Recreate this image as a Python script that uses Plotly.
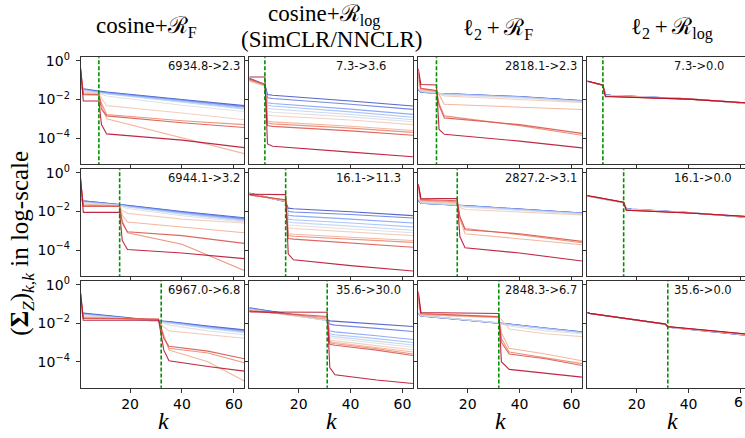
import plotly.graph_objects as go
from plotly.colors import sample_colorscale

# ---------------- data ----------------
COL_TITLES = ["cosine+ℛ<sub>F</sub>", "cosine+ℛ<sub>log</sub>",
              "ℓ<sub>2</sub>\u2009+\u2009ℛ<sub>F</sub>", "ℓ<sub>2</sub>\u2009+\u2009ℛ<sub>log</sub>"]
COL2_SUBTITLE = "(SimCLR/NNCLR)"
Y_LABEL = "(<b>Σ</b><sub><i>Z</i></sub>)<sub><i>k,k</i></sub> in log-scale"
X_LABEL = "<i>k</i>"
X_TICKS = [20, 40, 60]
X_TICK_TEXT = ["20", "40", "60"]
X_TICK_TEXT_CUT = ["20", "40", ""]   # last column: the "60" label is cut by the image edge
CUT_LABEL_VISIBLE = "6"
Y_TICKS = [1, 1e-2, 1e-4]
Y_TICK_TEXT = ["10<sup>0</sup>", "10<sup>−2</sup>", "10<sup>−4</sup>"]

DIMS = [[8, 7, 8, 7], [16, 15, 16, 15], [32, 31, 32, 32]]
LABELS = [["6934.8->2.3", "7.3->3.6", "2818.1->2.3", "7.3->0.0"],
          ["6944.1->3.2", "16.1->11.3", "2827.2->3.1", "16.1->0.0"],
          ["6967.0->6.8", "35.6->30.0", "2848.3->6.7", "35.6->0.0"]]

# k positions of the read points, and log10 of the diagonal values, one row per curve
KNOTS_R1C1 = [1, 2, 8, 9, 11, 40, 64]
LOG_R1C1 = [
    [-1.36, -1.45, -1.57, -1.59, -1.62, -2.00, -2.32],
    [-1.37, -1.47, -1.59, -1.61, -1.64, -2.03, -2.36],
    [-1.38, -1.49, -1.61, -1.63, -1.66, -2.06, -2.40],
    [-1.39, -1.51, -1.63, -1.65, -1.69, -2.10, -2.45],
    [-1.40, -1.53, -1.66, -1.68, -1.72, -2.14, -2.50],
    [-1.10, -1.57, -1.70, -1.74, -1.82, -2.30, -2.62],
    [-0.80, -1.62, -1.72, -1.90, -2.32, -2.70, -3.05],
    [-0.60, -1.70, -1.74, -2.30, -3.00, -4.00, -4.80],
    [-0.50, -1.72, -1.75, -2.20, -2.78, -3.10, -3.30],
    [-0.45, -1.75, -1.76, -2.50, -2.85, -3.20, -3.45],
    [-0.38, -2.08, -2.08, -3.30, -3.78, -4.10, -4.49],
]
KNOTS_R1C2 = [1, 2, 7, 8, 10, 40, 64]
LOG_R1C2 = [
    [-0.90, -0.95, -1.22, -1.74, -1.78, -2.08, -2.34],
    [-0.93, -0.98, -1.24, -1.91, -1.95, -2.25, -2.51],
    [-0.96, -1.01, -1.26, -2.17, -2.21, -2.50, -2.77],
    [-0.99, -1.04, -1.27, -2.30, -2.34, -2.64, -2.92],
    [-1.02, -1.07, -1.28, -2.45, -2.49, -2.78, -3.05],
    [-1.05, -1.10, -1.30, -2.62, -2.66, -2.90, -3.15],
    [-1.05, -1.10, -1.30, -2.80, -2.84, -3.06, -3.30],
    [-1.00, -1.05, -1.28, -3.12, -3.16, -3.38, -3.60],
    [-0.97, -1.02, -1.25, -3.22, -3.26, -3.48, -3.70],
    [-0.93, -0.98, -1.22, -3.35, -3.39, -3.62, -3.85],
    [-0.84, -0.84, -0.84, -4.30, -4.42, -4.72, -4.96],
]
KNOTS_R1C3 = [1, 2, 8, 9, 11, 40, 64]
LOG_R1C3 = [
    [-1.50, -1.62, -1.68, -1.69, -1.70, -1.85, -2.06],
    [-1.50, -1.62, -1.68, -1.69, -1.70, -1.86, -2.07],
    [-1.48, -1.61, -1.68, -1.69, -1.71, -1.87, -2.08],
    [-1.46, -1.60, -1.67, -1.69, -1.71, -1.88, -2.09],
    [-1.44, -1.58, -1.66, -1.69, -1.72, -1.89, -2.10],
    [-1.40, -1.56, -1.64, -1.70, -1.76, -1.92, -2.12],
    [-1.20, -1.52, -1.60, -1.72, -1.82, -1.98, -2.15],
    [-1.00, -1.50, -1.58, -1.75, -2.25, -2.40, -2.52],
    [-0.80, -1.45, -1.56, -2.20, -2.85, -3.35, -3.85],
    [-0.60, -1.42, -1.54, -2.30, -2.95, -3.30, -3.75],
    [-0.41, -1.23, -1.25, -3.55, -3.80, -4.15, -4.50],
]
KNOTS_R1C4 = [1, 2, 7, 8, 10, 40, 64]
LOG_R1C4 = [
    [-1.06, -1.09, -1.26, -1.74, -1.78, -1.97, -2.22],
    [-1.06, -1.09, -1.26, -1.75, -1.79, -1.97, -2.22],
    [-1.06, -1.09, -1.26, -1.76, -1.79, -1.97, -2.21],
    [-1.06, -1.09, -1.26, -1.77, -1.80, -1.97, -2.21],
    [-1.06, -1.09, -1.26, -1.78, -1.80, -1.97, -2.21],
    [-1.06, -1.09, -1.26, -1.79, -1.81, -1.97, -2.20],
    [-1.06, -1.09, -1.26, -1.80, -1.82, -1.97, -2.20],
    [-1.06, -1.09, -1.26, -1.82, -1.83, -1.97, -2.20],
    [-1.06, -1.09, -1.26, -1.83, -1.84, -1.98, -2.20],
    [-1.06, -1.09, -1.26, -1.85, -1.85, -1.98, -2.19],
    [-1.05, -1.08, -1.25, -1.86, -1.86, -1.98, -2.19],
]
KNOTS_R2C1 = [1, 2, 16, 17, 19, 40, 64]
LOG_R2C1 = [
    [-1.38, -1.45, -1.64, -1.66, -1.68, -2.00, -2.33],
    [-1.39, -1.47, -1.65, -1.67, -1.70, -2.03, -2.37],
    [-1.40, -1.49, -1.66, -1.68, -1.72, -2.06, -2.41],
    [-1.41, -1.51, -1.67, -1.70, -1.74, -2.10, -2.45],
    [-1.42, -1.53, -1.68, -1.72, -1.77, -2.14, -2.50],
    [-1.10, -1.56, -1.70, -1.76, -1.85, -2.22, -2.55],
    [-0.80, -1.60, -1.71, -1.95, -2.10, -2.40, -2.60],
    [-0.60, -1.64, -1.72, -2.20, -2.55, -2.80, -3.10],
    [-0.50, -1.68, -1.73, -2.50, -3.10, -3.70, -5.05],
    [-0.40, -1.74, -1.74, -2.60, -3.05, -3.25, -3.65],
    [-0.29, -2.05, -2.05, -3.50, -3.97, -4.15, -4.44],
]
KNOTS_R2C2 = [1, 2, 15, 16, 18, 40, 64]
LOG_R2C2 = [
    [-1.05, -1.08, -1.50, -1.83, -1.86, -2.02, -2.22],
    [-1.06, -1.09, -1.50, -2.00, -2.03, -2.16, -2.34],
    [-1.07, -1.10, -1.49, -2.20, -2.23, -2.40, -2.60],
    [-1.08, -1.11, -1.48, -2.40, -2.43, -2.60, -2.80],
    [-1.09, -1.12, -1.47, -2.55, -2.58, -2.76, -2.97],
    [-1.10, -1.13, -1.46, -2.70, -2.73, -2.90, -3.10],
    [-1.11, -1.14, -1.45, -2.85, -2.88, -3.05, -3.25],
    [-1.12, -1.15, -1.44, -3.15, -3.18, -3.33, -3.50],
    [-1.13, -1.16, -1.42, -3.25, -3.28, -3.43, -3.60],
    [-1.14, -1.17, -1.40, -3.40, -3.43, -3.62, -3.85],
    [-1.11, -1.11, -1.13, -4.20, -4.50, -4.80, -5.08],
]
KNOTS_R2C3 = [1, 2, 16, 17, 19, 40, 64]
LOG_R2C3 = [
    [-1.45, -1.58, -1.68, -1.69, -1.70, -1.88, -2.08],
    [-1.45, -1.58, -1.68, -1.69, -1.70, -1.88, -2.08],
    [-1.43, -1.57, -1.68, -1.69, -1.71, -1.89, -2.09],
    [-1.40, -1.56, -1.67, -1.69, -1.72, -1.90, -2.10],
    [-1.35, -1.55, -1.66, -1.70, -1.74, -1.92, -2.12],
    [-1.20, -1.52, -1.64, -1.72, -1.78, -1.95, -2.14],
    [-1.00, -1.48, -1.60, -1.80, -1.90, -2.02, -2.18],
    [-0.80, -1.45, -1.55, -2.40, -3.15, -3.40, -3.72],
    [-0.70, -1.42, -1.50, -2.30, -2.88, -3.20, -3.62],
    [-0.62, -1.38, -1.45, -2.25, -2.95, -3.15, -3.55],
    [-0.58, -1.32, -1.34, -3.30, -3.88, -4.15, -4.56],
]
KNOTS_R2C4 = [1, 2, 15, 16, 18, 40, 64]
LOG_R2C4 = [
    [-1.20, -1.23, -1.55, -1.84, -1.88, -2.06, -2.32],
    [-1.20, -1.23, -1.55, -1.85, -1.89, -2.06, -2.32],
    [-1.20, -1.23, -1.55, -1.86, -1.89, -2.06, -2.31],
    [-1.20, -1.23, -1.55, -1.87, -1.90, -2.06, -2.31],
    [-1.20, -1.23, -1.55, -1.88, -1.90, -2.07, -2.30],
    [-1.20, -1.23, -1.55, -1.89, -1.91, -2.07, -2.30],
    [-1.20, -1.23, -1.55, -1.90, -1.92, -2.07, -2.29],
    [-1.19, -1.22, -1.54, -1.91, -1.93, -2.07, -2.29],
    [-1.19, -1.22, -1.54, -1.92, -1.94, -2.08, -2.28],
    [-1.18, -1.21, -1.53, -1.93, -1.95, -2.08, -2.28],
    [-1.17, -1.20, -1.52, -1.94, -1.95, -2.08, -2.27],
]
KNOTS_R3C1 = [1, 2, 31, 33, 35, 50, 64]
LOG_R3C1 = [
    [-1.40, -1.48, -1.88, -1.90, -1.92, -2.15, -2.35],
    [-1.41, -1.50, -1.89, -1.91, -1.93, -2.17, -2.38],
    [-1.42, -1.52, -1.90, -1.92, -1.95, -2.20, -2.42],
    [-1.43, -1.54, -1.91, -1.93, -1.97, -2.23, -2.46],
    [-1.44, -1.56, -1.92, -1.95, -2.00, -2.27, -2.50],
    [-1.20, -1.60, -1.90, -2.00, -2.10, -2.40, -2.60],
    [-0.90, -1.65, -1.85, -2.20, -2.40, -2.60, -2.78],
    [-0.70, -1.70, -1.82, -2.60, -3.40, -4.00, -5.00],
    [-0.60, -1.72, -1.80, -2.70, -3.30, -3.55, -4.05],
    [-0.50, -1.75, -1.78, -2.80, -3.20, -3.45, -3.85],
    [-0.43, -1.85, -1.85, -3.40, -3.95, -4.25, -4.49],
]
KNOTS_R3C2 = [1, 2, 31, 32, 34, 50, 64]
LOG_R3C2 = [
    [-1.20, -1.22, -1.82, -1.88, -1.90, -2.05, -2.17],
    [-1.22, -1.24, -1.84, -2.05, -2.10, -2.27, -2.43],
    [-1.24, -1.26, -1.85, -2.40, -2.45, -2.65, -2.85],
    [-1.26, -1.28, -1.86, -2.55, -2.60, -2.80, -3.00],
    [-1.28, -1.30, -1.86, -2.65, -2.70, -2.93, -3.13],
    [-1.30, -1.32, -1.85, -2.75, -2.80, -3.03, -3.25],
    [-1.30, -1.33, -1.82, -2.88, -2.92, -3.15, -3.38],
    [-1.32, -1.34, -1.78, -2.95, -3.00, -3.25, -3.50],
    [-1.34, -1.36, -1.72, -3.02, -3.07, -3.33, -3.60],
    [-1.36, -1.38, -1.65, -3.10, -3.15, -3.40, -3.68],
    [-1.40, -1.42, -1.43, -4.30, -4.68, -4.95, -5.13],
]
KNOTS_R3C3 = [1, 2, 32, 33, 36, 50, 64]
LOG_R3C3 = [
    [-1.50, -1.62, -2.00, -2.02, -2.05, -2.25, -2.45],
    [-1.50, -1.62, -2.00, -2.02, -2.05, -2.26, -2.46],
    [-1.49, -1.61, -2.00, -2.02, -2.06, -2.27, -2.47],
    [-1.48, -1.61, -1.99, -2.03, -2.07, -2.28, -2.48],
    [-1.46, -1.60, -1.99, -2.03, -2.08, -2.30, -2.50],
    [-1.40, -1.60, -1.98, -2.05, -2.15, -2.40, -2.55],
    [-1.10, -1.58, -1.72, -1.80, -2.30, -2.55, -2.70],
    [-0.90, -1.55, -1.70, -2.50, -3.30, -3.60, -3.95],
    [-0.70, -1.52, -1.68, -2.80, -3.50, -3.80, -4.10],
    [-0.50, -1.50, -1.66, -3.00, -3.60, -3.85, -4.20],
    [-0.35, -1.45, -1.50, -4.00, -4.40, -4.60, -4.80],
]
KNOTS_R3C4 = [1, 2, 31, 32, 34, 50, 64]
LOG_R3C4 = [
    [-1.45, -1.50, -2.05, -2.20, -2.24, -2.44, -2.66],
    [-1.45, -1.50, -2.05, -2.20, -2.24, -2.43, -2.65],
    [-1.45, -1.50, -2.05, -2.20, -2.23, -2.43, -2.65],
    [-1.45, -1.50, -2.05, -2.20, -2.23, -2.42, -2.64],
    [-1.45, -1.50, -2.05, -2.20, -2.23, -2.42, -2.64],
    [-1.45, -1.50, -2.05, -2.19, -2.22, -2.41, -2.63],
    [-1.45, -1.50, -2.05, -2.19, -2.22, -2.41, -2.62],
    [-1.45, -1.50, -2.05, -2.19, -2.22, -2.40, -2.61],
    [-1.45, -1.50, -2.05, -2.18, -2.21, -2.40, -2.60],
    [-1.45, -1.50, -2.05, -2.18, -2.21, -2.39, -2.59],
    [-1.44, -1.49, -2.04, -2.18, -2.20, -2.39, -2.58],
]

PANELS = [
    [(KNOTS_R1C1, LOG_R1C1), (KNOTS_R1C2, LOG_R1C2), (KNOTS_R1C3, LOG_R1C3), (KNOTS_R1C4, LOG_R1C4)],
    [(KNOTS_R2C1, LOG_R2C1), (KNOTS_R2C2, LOG_R2C2), (KNOTS_R2C3, LOG_R2C3), (KNOTS_R2C4, LOG_R2C4)],
    [(KNOTS_R3C1, LOG_R3C1), (KNOTS_R3C2, LOG_R3C2), (KNOTS_R3C3, LOG_R3C3), (KNOTS_R3C4, LOG_R3C4)],
]

# ---------------- styling / layout ----------------
W, H = 745, 438
COOLWARM = [[0.0, "rgb(59,76,192)"], [0.125, "rgb(98,130,234)"], [0.25, "rgb(141,176,254)"],
            [0.375, "rgb(184,208,249)"], [0.5, "rgb(221,221,221)"], [0.625, "rgb(245,196,173)"],
            [0.75, "rgb(244,154,123)"], [0.875, "rgb(222,96,77)"], [1.0, "rgb(180,4,38)"]]
N_LINES = 11
COLORS = sample_colorscale(COOLWARM, [i / (N_LINES - 1) for i in range(N_LINES)])

COL_PX = [(80.7, 244.3), (249.3, 413.0), (418.3, 582.0), (587.3, 745.0)]
ROW_PX = [(52.0, 160.5), (165.5, 274.0), (279.0, 387.0)]
PX_PER_K = (244.3 - 80.7) / 63.0
Y_RANGE = [-5.35, 0.18]
SERIF = "Liberation Serif, DejaVu Serif, serif"
SANS = "DejaVu Sans, sans-serif"

fig = go.Figure()
layout = {}
annotations = []

for r in range(3):
    for c in range(4):
        idx = r * 4 + c + 1
        xa = "x" if idx == 1 else f"x{idx}"
        ya = "y" if idx == 1 else f"y{idx}"
        knots, logs = PANELS[r][c]
        for i, vals in enumerate(logs):
            fig.add_trace(go.Scatter(
                x=knots, y=[10 ** v for v in vals], mode="lines",
                line=dict(color=COLORS[i], width=1.1), opacity=0.85,
                xaxis=xa, yaxis=ya, showlegend=False, hoverinfo="skip"))
        d = DIMS[r][c]
        fig.add_trace(go.Scatter(
            x=[d, d], y=[1e-7, 10], mode="lines",
            line=dict(color="#009000", width=1.6, dash="4px,2px"),
            xaxis=xa, yaxis=ya, showlegend=False, hoverinfo="skip"))

        x0, x1 = COL_PX[c]
        ytop, ybot = ROW_PX[r]
        xmax = 1 + (x1 - x0) / PX_PER_K
        layout["xaxis" if idx == 1 else f"xaxis{idx}"] = dict(
            domain=[x0 / W, x1 / W], range=[1, xmax], anchor=ya,
            tickmode="array", tickvals=X_TICKS,
            ticktext=X_TICK_TEXT_CUT if c == 3 else X_TICK_TEXT,
            showticklabels=(r == 2), ticklabeloverflow="allow",
            ticks="outside", ticklen=4, tickwidth=1, tickcolor="#333",
            showline=True, linecolor="#333", linewidth=1, mirror=True,
            showgrid=False, zeroline=False,
            tickfont=dict(family=SANS, size=14, color="#000"))
        layout["yaxis" if idx == 1 else f"yaxis{idx}"] = dict(
            domain=[1 - ybot / H, 1 - ytop / H], type="log", range=Y_RANGE, anchor=xa,
            tickmode="array", tickvals=Y_TICKS, ticktext=Y_TICK_TEXT,
            showticklabels=(c == 0), ticklabelstandoff=3,
            ticks="outside", ticklen=4, tickwidth=1, tickcolor="#333",
            showline=True, linecolor="#333", linewidth=1, mirror=(c != 3),
            showgrid=False, zeroline=False,
            tickfont=dict(family=SANS, size=14, color="#000"))

        annotations.append(dict(
            text=LABELS[r][c], xref="paper", yref="paper",
            x=(x0 + 0.52 * (244.3 - 80.7)) / W, y=1 - (ytop + 9) / H,
            xanchor="left", yanchor="middle", showarrow=False,
            font=dict(family=SANS, size=11.5, color="#111")))

# visible part of the last column's "60" tick label, kept inside the page edge
annotations.append(dict(text=CUT_LABEL_VISIBLE, xref="paper", yref="paper",
                        x=1.0, y=1 - 401.5 / H, xanchor="right", yanchor="middle",
                        showarrow=False, font=dict(family=SANS, size=14, color="#000")))

TITLE_POS = [(146, 21.5), (324, 9.5), (498, 23), (672, 23)]
for c in range(4):
    tx, ty = TITLE_POS[c]
    annotations.append(dict(text=COL_TITLES[c], xref="paper", yref="paper",
                            x=tx / W, y=1 - ty / H, xanchor="center", yanchor="middle",
                            showarrow=False, font=dict(family=SERIF, size=23, color="#000")))
annotations.append(dict(text=COL2_SUBTITLE, xref="paper", yref="paper",
                        x=331 / W, y=1 - 34 / H, xanchor="center", yanchor="middle",
                        showarrow=False, font=dict(family=SERIF, size=23, color="#000")))

for cx in [163, 331, 500, 672]:
    annotations.append(dict(text=X_LABEL, xref="paper", yref="paper",
                            x=cx / W, y=1 - 421 / H, xanchor="center", yanchor="middle",
                            showarrow=False, font=dict(family=SERIF, size=24, color="#000")))

annotations.append(dict(text=Y_LABEL, xref="paper", yref="paper",
                        x=22 / W, y=1 - 241 / H, xanchor="center", yanchor="middle",
                        textangle=-90, showarrow=False,
                        font=dict(family=SERIF, size=25, color="#000")))

fig.update_layout(**layout)
fig.update_layout(width=W, height=H, margin=dict(l=0, r=0, t=0, b=0),
                  paper_bgcolor="white", plot_bgcolor="white",
                  annotations=annotations, showlegend=False)

PAGE_FIX = ("document.documentElement.style.overflow='hidden';"
            "document.body.style.margin='0px';"
            "document.body.style.overflow='hidden';")

fig.write_html("out.html", config={"displayModeBar": False}, post_script=PAGE_FIX)
